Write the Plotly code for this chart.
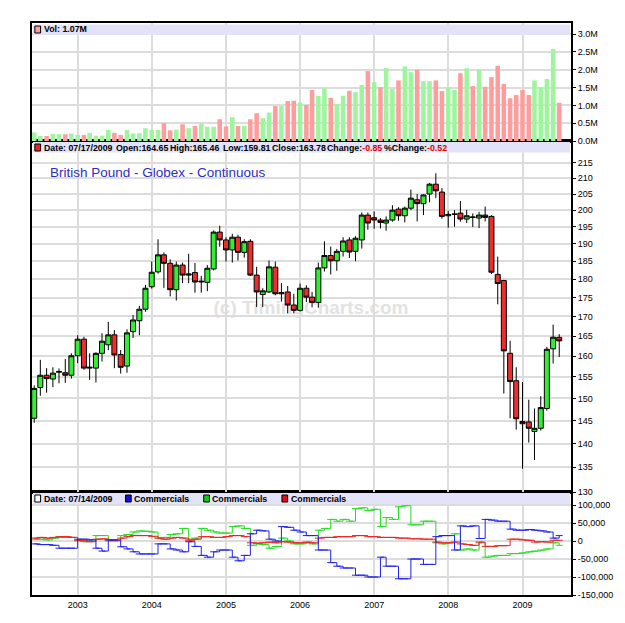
import math
import pandas as pd
import plotly.graph_objects as go

# ---------------- data ----------------
months = pd.date_range("2002-06-01", "2009-07-01", freq="MS")

opens = [145.5, 152.5, 155.4, 154.5, 156.1, 156.0, 155.4,
         160.1, 164.2, 157.1, 157.1, 160.7, 162.8, 165.3, 160.4, 157.6, 166.1, 168.9, 171.9,
         177.9, 182.0, 186.8, 184.4, 177.1, 183.9, 181.1, 181.8, 179.2, 179.1, 182.8, 193.4,
         191.1, 188.2, 191.9, 187.5, 190.7, 181.1, 175.8, 176.5, 183.3, 176.0, 176.5, 173.0,
         171.6, 177.5, 175.1, 173.7, 183.1, 186.6, 185.1, 187.8, 191.1, 187.8, 191.1, 198.5,
         197.7, 197.0, 196.1, 197.0, 200.3, 198.3, 200.6, 203.2, 202.0, 205.0, 208.1, 205.6,
         198.3, 198.7, 199.1, 197.3, 197.8, 197.6, 198.5, 198.1, 181.3, 179.6, 160.7, 154.1,
         144.8, 144.7, 142.6, 143.3, 147.7, 161.8, 164.65]
highs = [153.0, 159.1, 157.1, 157.3, 157.0, 159.3, 160.7,
         165.2, 164.8, 160.7, 160.9, 165.7, 168.6, 166.5, 161.5, 166.7, 170.4, 172.8, 178.4,
         184.9, 191.3, 187.5, 185.5, 184.9, 184.6, 187.1, 184.5, 180.9, 183.9, 193.9, 195.3,
         191.9, 192.9, 192.6, 191.3, 191.3, 183.4, 177.5, 185.2, 184.9, 178.9, 178.1, 176.0,
         178.8, 178.3, 176.5, 184.6, 190.7, 189.2, 188.5, 191.9, 191.9, 192.2, 199.3, 199.3,
         199.6, 197.6, 198.1, 201.5, 200.9, 201.1, 206.4, 205.0, 204.9, 208.5, 211.6, 206.9,
         199.8, 200.0, 202.8, 200.1, 199.0, 199.5, 201.1, 198.5, 186.3, 179.8, 163.8, 157.3,
         153.8, 149.7, 147.7, 150.5, 162.3, 167.9, 165.46]
lows = [144.5, 150.6, 151.3, 152.6, 153.5, 153.6, 154.6,
        158.3, 156.7, 154.3, 153.7, 158.7, 161.5, 157.1, 155.8, 156.0, 164.5, 165.2, 171.2,
        177.4, 181.5, 177.6, 175.3, 174.2, 178.9, 178.9, 176.3, 176.3, 176.7, 182.4, 189.1,
        184.9, 184.6, 185.2, 186.0, 180.8, 172.5, 172.5, 176.2, 175.6, 173.9, 170.8, 170.8,
        171.3, 173.8, 172.4, 172.3, 182.1, 181.3, 182.3, 186.3, 185.9, 185.0, 188.6, 194.1,
        194.4, 194.5, 193.8, 196.5, 196.8, 196.3, 200.0, 196.6, 198.5, 202.4, 203.7, 197.4,
        194.7, 195.0, 196.5, 196.1, 194.9, 194.6, 196.6, 181.4, 173.2, 151.1, 145.5, 143.0,
        134.7, 140.2, 136.5, 142.8, 147.2, 158.2, 159.81]
closes = [152.3, 155.4, 154.6, 155.9, 156.3, 155.4, 160.1,
          164.2, 157.1, 157.3, 160.7, 163.7, 165.3, 160.3, 157.3, 165.8, 169.1, 171.9, 177.5,
          181.9, 186.8, 184.4, 177.1, 183.9, 181.1, 181.4, 179.2, 179.4, 183.0, 193.4, 191.1,
          188.2, 191.9, 187.5, 190.6, 181.1, 176.5, 176.8, 183.4, 176.0, 176.3, 173.0, 171.6,
          177.5, 175.1, 173.7, 183.1, 186.6, 185.1, 187.8, 190.8, 187.6, 191.6, 198.5, 196.1,
          197.0, 196.3, 197.0, 200.0, 198.3, 200.6, 203.7, 202.0, 204.7, 208.1, 206.0, 198.1,
          198.7, 198.8, 197.3, 198.3, 197.9, 198.5, 197.8, 181.9, 178.8, 161.3, 153.9, 145.4,
          144.3, 143.3, 143.3, 147.9, 161.7, 164.7, 163.78]

volume_m = [0.24, 0.14, 0.14, 0.20, 0.19, 0.19, 0.21,
            0.17, 0.17, 0.23, 0.15, 0.15, 0.31, 0.23, 0.17, 0.31, 0.21, 0.22, 0.36,
            0.31, 0.31, 0.50, 0.30, 0.32, 0.47, 0.36, 0.42, 0.50, 0.40, 0.40, 0.61,
            0.41, 0.67, 0.42, 0.42, 0.61, 0.78, 0.64, 0.80, 0.98, 0.98, 1.12, 1.13,
            1.08, 1.01, 1.43, 1.27, 1.48, 1.21, 1.04, 1.27, 1.41, 1.37, 1.57, 1.96,
            1.65, 1.51, 2.05, 1.46, 1.70, 2.09, 1.93, 2.00, 1.68, 1.68, 1.70, 1.40,
            1.51, 1.44, 1.90, 2.04, 1.54, 1.99, 1.52, 1.79, 2.11, 1.60, 1.20, 1.29,
            1.43, 1.29, 1.70, 1.51, 1.74, 2.58, 1.07]

# Commitments of traders (thousands of contracts)
cot_blue_k = [-8, -10, -10, -12, -20, -20, -20,
              5, 5, 3, -20, -28, 3, 3, -16, -22, -30, -36, -36,
              -36, -8, -8, -22, -25, -30, -2, -15, -40, -45, -30, -25,
              -25, -45, -55, -40, 20, 30, 28, 5, 0, 40, 38, 30,
              25, 15, 15, -25, -25, -60, -70, -75, -75, -95, -95, -100,
              -100, -45, -70, -70, -105, -105, -50, -50, -65, -65, 12, 15,
              15, -25, 42, 40, 42, 7, 60, 58, 55, 55, 33, 30,
              30, 32, 30, 28, 25, 8, 15]
cot_green_k = [5, 5, 3, 8, 10, 10, 10,
               0, -2, 0, 15, 15, 0, 0, 15, 18, 25, 28, 27,
               25, 8, 10, 18, 20, 35, 5, 8, 35, 30, 25, 22,
               22, 40, 42, 35, -12, -8, -10, -20, -15, 8, 0, -8,
               -8, -5, -8, 30, 35, 60, 55, 60, 55, 90, 92, 85,
               88, 40, 65, 60, 95, 98, 45, 45, 55, 55, -5, -8,
               -5, 20, -25, -22, -25, -5, -45, -42, -40, -40, -35, -35,
               -33, -30, -28, -25, -22, -5, -12]
cot_red_k = [8, 10, 8, 10, 12, 12, 10,
             2, 0, -2, 5, 6, 3, 2, 8, 12, 15, 15, 15,
             13, 8, 5, 8, 10, 8, 2, 5, 12, 12, 10, 10,
             12, 15, 15, 12, -5, -6, -5, -3, -5, -2, -3, -5,
             -5, -3, -5, 8, 10, 10, 12, 12, 12, 15, 15, 12,
             12, 10, 10, 10, 8, 8, 6, 6, 5, 5, -3, -5,
             -5, -3, -8, -10, -12, -3, -15, -15, -13, -13, 5, 5,
             3, 2, -3, -2, -3, 2, 2]

year_ticks = ["2003-01-01", "2004-01-01", "2005-01-01", "2006-01-01",
              "2007-01-01", "2008-01-01", "2009-01-01"]
year_labels = ["2003", "2004", "2005", "2006", "2007", "2008", "2009"]
price_ticks = [130, 135, 140, 145, 150, 155, 160, 165, 170, 175, 180, 185, 190,
               195, 200, 205, 210, 215]
vol_ticks = [0, 0.5, 1.0, 1.5, 2.0, 2.5, 3.0]
vol_labels = ["0.0M", "0.5M", "1.0M", "1.5M", "2.0M", "2.5M", "3.0M"]
cot_ticks = [-150000, -100000, -50000, 0, 50000, 100000]
cot_labels = ["-150,000", "-100,000", "-50,000", "0", "50,000", "100,000"]

# ---------------- layout helpers ----------------
W, H = 625, 623
L, R, T, B = 32, 28, 23, 28


def px(x):
    return (x - L) / (W - L - R)


def py(y):
    return (H - B - y) / (H - T - B)


FONT = "Liberation Sans, Arial, sans-serif"
GREEN_C = "#33ee33"
RED_C = "#ee2e2e"
VOL_G = "#9ef59e"
VOL_R = "#ff9c9c"

vol_colors = []
for i, c in enumerate(closes):
    if i == 0 or c >= closes[i - 1]:
        vol_colors.append(VOL_G)
    else:
        vol_colors.append(VOL_R)

fig = go.Figure()

fig.add_trace(go.Bar(x=months, y=volume_m, marker=dict(color=vol_colors, line=dict(width=0)),
                     xaxis="x3", yaxis="y3", showlegend=False, hoverinfo="skip"))

fig.add_trace(go.Candlestick(
    x=months, open=opens, high=highs, low=lows, close=closes,
    xaxis="x2", yaxis="y2", showlegend=False, whiskerwidth=0,
    increasing=dict(line=dict(color="black", width=1), fillcolor=GREEN_C),
    decreasing=dict(line=dict(color="black", width=1), fillcolor=RED_C)))

for vals, col in [(cot_green_k, "#22dd22"), (cot_red_k, "#ee2222"), (cot_blue_k, "#2222ee")]:
    fig.add_trace(go.Scatter(x=months, y=[v * 1000 for v in vals], mode="lines+markers",
                             line=dict(color=col, width=1, shape="hv"),
                             marker=dict(symbol="line-ew", size=5, color=col,
                                         line=dict(color=col, width=1)),
                             xaxis="x", yaxis="y", showlegend=False, hoverinfo="skip"))

grid = "#dcdcdc"
xcommon = dict(type="date", range=["2002-05-21", "2009-08-28"], tickvals=year_ticks,
               showgrid=True, gridcolor=grid, gridwidth=1.5, showline=True,
               linecolor="black", linewidth=2, mirror=True, ticks="", zeroline=False)
ycommon = dict(side="right", showgrid=True, gridcolor=grid, gridwidth=2, ticks="outside",
               ticklen=3, tickcolor="black", showline=True, linecolor="black", linewidth=2,
               mirror=True, zeroline=False, tickfont=dict(size=9, color="black", family=FONT))

fig.update_layout(
    width=W, height=H, margin=dict(l=L, r=R, t=T, b=B),
    paper_bgcolor="white", plot_bgcolor="white",
    font=dict(family=FONT, size=9, color="black"),
    bargap=0.2, boxgap=0.12, boxgroupgap=0,
    xaxis=dict(**xcommon, anchor="y", ticktext=year_labels,
               tickfont=dict(size=9, color="black", family=FONT)),
    xaxis2=dict(**xcommon, anchor="y2", matches="x", showticklabels=False,
                rangeslider=dict(visible=False)),
    xaxis3=dict(**xcommon, anchor="y3", matches="x", showticklabels=False),
    yaxis=dict(**ycommon, domain=[0, py(492)], range=[-150000, 136100],
               tickvals=cot_ticks, ticktext=cot_labels),
    yaxis2=dict(**ycommon, domain=[py(492), py(141)], type="log",
                range=[math.log10(130), math.log10(222.3)],
                tickvals=price_ticks, ticktext=[str(v) for v in price_ticks]),
    yaxis3=dict(**ycommon, domain=[py(141), 1], range=[0, 3.31],
                tickvals=vol_ticks, ticktext=vol_labels),
)

shapes = []
annotations = []

# header bars
for y0, y1 in [(24.5, 35), (142, 152.5), (493, 504)]:
    shapes.append(dict(type="rect", xref="paper", yref="paper", x0=px(33), x1=px(596),
                       y0=py(y1), y1=py(y0), fillcolor="#e2e2f8", line=dict(width=0),
                       layer="above"))


def square(x, y, color):
    shapes.append(dict(type="rect", xref="paper", yref="paper", x0=px(x), x1=px(x + 6),
                       y0=py(y + 3.5), y1=py(y - 3.5), fillcolor=color,
                       line=dict(color="black", width=1), layer="above"))


def label(x, y, text, size=8.8, color="black"):
    annotations.append(dict(x=px(x), y=py(y), xref="paper", yref="paper", text=text,
                            showarrow=False, xanchor="left", yanchor="middle",
                            font=dict(size=size, color=color, family=FONT)))


square(35, 29.5, VOL_R)
label(42, 29.5, "<b>Vol: 1.07M</b>")

square(35, 147.5, "#ee2222")
label(42, 147.5, "<b>Date: 07/17/2009</b>")
label(118, 147.5, "<b>Open:164.65</b>")
label(175, 147.5, "<b>High:165.46</b>")
label(230, 147.5, "<b>Low:159.81</b>")
label(281, 147.5, "<b>Close:163.78</b>")
label(339, 147.5, "<b>Change:<span style='color:#dd0000'>-0.85</span></b>")
label(399, 147.5, "<b>%Change:<span style='color:#dd0000'>-0.52</span></b>")

square(35, 498.5, "white")
label(42, 498.5, "<b>Date: 07/14/2009</b>")
square(130, 498.5, "#1111cc")
label(137, 498.5, "<b>Commercials</b>")
square(212, 498.5, "#11cc11")
label(219, 498.5, "<b>Commercials</b>")
square(294, 498.5, "#dd1111")
label(301, 498.5, "<b>Commercials</b>")

label(49, 172, "British Pound - Globex - Continuous", size=13.5, color="#2e2eb8")

# watermark below the data
shapes.append(dict(type="rect", xref="paper", yref="paper", x0=px(217), x1=px(432),
                   y0=py(315), y1=py(295), line=dict(width=0), layer="below",
                   label=dict(text="<b>(c) TimingCharts.com</b>", textposition="middle center",
                              font=dict(size=19, color="#e2e2e2", family=FONT))))

fig.update_layout(shapes=shapes, annotations=annotations)

fig.write_html("out.html")
